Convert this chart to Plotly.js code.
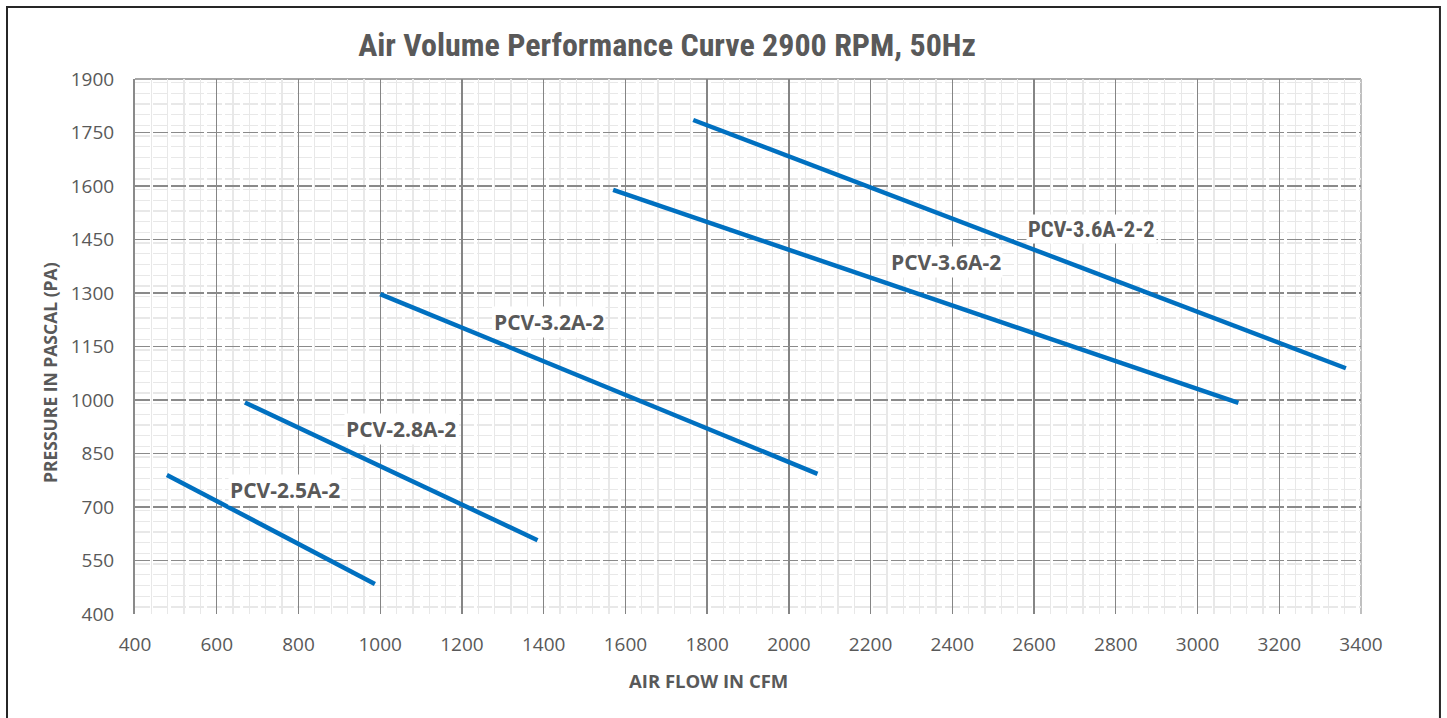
<!DOCTYPE html>
<html>
<head>
<meta charset="utf-8">
<script src="https://cdn.plot.ly/plotly-3.0.1.min.js"></script>
<style>html,body{margin:0;padding:0;background:#fff;}#chart{width:1447px;height:718px;}</style>
</head>
<body>
<div id="chart"></div>
<script>
// Data
const seriesNames = ["PCV-2.5A-2", "PCV-2.8A-2", "PCV-3.2A-2", "PCV-3.6A-2", "PCV-3.6A-2-2"];
const flow25 = [478, 987];
const pres25 = [790, 484];
const flow28 = [669, 1385];
const pres28 = [993, 607];
const flow32 = [1000, 2070];
const pres32 = [1297, 793];
const flow36 = [1570, 3100];
const pres36 = [1589, 992];
const flow362 = [1766, 3363];
const pres362 = [1785, 1089];
const labelX = [768, 1050, 1413, 2385, 2740];
const labelY = [748, 919, 1219, 1387, 1480];
const xTicks = [400, 600, 800, 1000, 1200, 1400, 1600, 1800, 2000, 2200, 2400, 2600, 2800, 3000, 3200, 3400];
const yTicks = [400, 550, 700, 850, 1000, 1150, 1300, 1450, 1600, 1750, 1900];

const flows = [flow25, flow28, flow32, flow36, flow362];
const pres = [pres25, pres28, pres32, pres36, pres362];
const blue = '#0070C0';
const txt = '#595959';
const narrow = '"Liberation Sans Narrow", "Roboto Condensed", "Liberation Sans", sans-serif';
const sans = '"Open Sans", "Liberation Sans", sans-serif';

const traces = seriesNames.map((n, i) => ({
  type: 'scatter', mode: 'lines', name: n,
  x: flows[i], y: pres[i],
  line: {color: blue, width: 4.5},
  hoverinfo: 'x+y+name'
}));

const annotations = seriesNames.map((n, i) => ({
  x: labelX[i], y: labelY[i], xref: 'x', yref: 'y',
  text: '<b>' + n + '</b>', showarrow: false,
  bgcolor: '#ffffff', borderpad: 1,
  font: {family: i === 4 ? narrow : sans, size: i === 4 ? 22.5 : 21, color: txt}
}));

annotations.push({
  xref: 'paper', yref: 'paper', x: 0.4674, y: -0.1252,
  xanchor: 'center', yanchor: 'middle', showarrow: false,
  text: '<b>AIR FLOW IN CFM</b>',
  font: {family: sans, size: 18.5, color: txt}
});
annotations.push({
  xref: 'paper', yref: 'paper', x: -0.0693, y: 0.4505,
  xanchor: 'center', yanchor: 'middle', showarrow: false, textangle: -90,
  text: '<b>PRESSURE IN PASCAL (PA)</b>',
  font: {family: sans, size: 17.5, color: txt}
});

const layout = {
  width: 1447, height: 718,
  margin: {l: 135, r: 86, t: 79, b: 104},
  paper_bgcolor: '#ffffff', plot_bgcolor: '#ffffff',
  showlegend: false,
  title: {
    text: '<b>Air Volume Performance Curve 2900 RPM, 50Hz</b>',
    x: 0.434, xref: 'paper', xanchor: 'center',
    y: 0.937, yref: 'container', yanchor: 'middle',
    font: {family: narrow, size: 32, color: txt}
  },
  xaxis: {
    range: [400, 3400], tickmode: 'array', tickvals: xTicks,
    showgrid: true, gridcolor: '#858585', gridwidth: 1.3,
    minor: {dtick: 40, showgrid: true, gridcolor: '#e8e8e8', gridwidth: 1.3},
    zeroline: false, showline: false, ticks: '', ticklabelstandoff: 17,
    tickfont: {family: sans, size: 19, color: txt},
    fixedrange: true
  },
  yaxis: {
    range: [400, 1900], tickmode: 'array', tickvals: yTicks,
    showgrid: true, gridcolor: '#8a8a8a', gridwidth: 1.3, griddash: '15px,3px',
    minor: {dtick: 30, showgrid: true, gridcolor: '#e8e8e8', gridwidth: 1.3},
    zeroline: false, showline: true, linecolor: '#8a8a8a', linewidth: 2, ticks: '',
    ticklabelstandoff: 15,
    tickfont: {family: sans, size: 19, color: txt},
    fixedrange: true
  },
  shapes: [
    {type: 'line', xref: 'paper', yref: 'paper', x0: 0, x1: 1, y0: 1, y1: 1, line: {color: '#a6a6a6', width: 2}, layer: 'below'},
    {type: 'line', xref: 'paper', yref: 'paper', x0: 1, x1: 1, y0: 0, y1: 1, line: {color: '#c0c0c0', width: 2}, layer: 'below'},
    {type: 'rect', xref: 'paper', yref: 'paper', x0: -0.1044, x1: 1.0644, y0: -0.2, y1: 1.1346, line: {color: '#262626', width: 2}, fillcolor: 'rgba(0,0,0,0)'}
  ],
  annotations: annotations
};

Plotly.newPlot('chart', traces, layout, {displayModeBar: false, staticPlot: true});
</script>
</body>
</html>
